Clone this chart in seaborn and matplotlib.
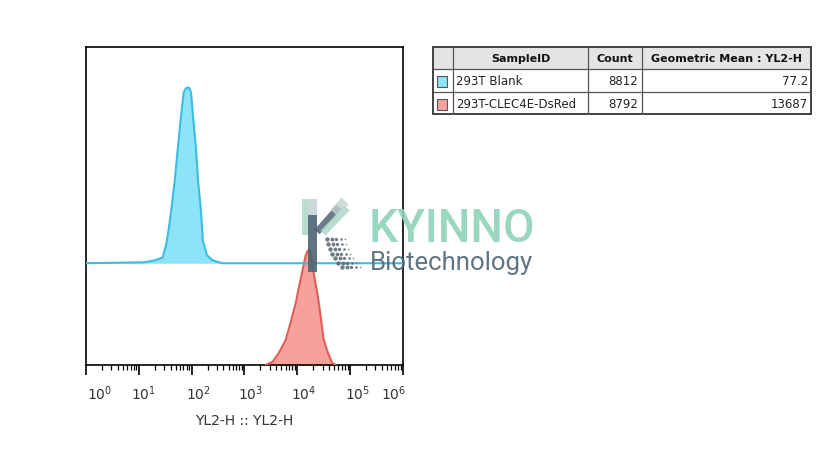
import numpy as np
import pandas as pd
import matplotlib
matplotlib.use("Agg")
import matplotlib.pyplot as plt
import matplotlib.transforms as mtransforms
from matplotlib.patches import Rectangle
import seaborn as sns

# histogram outlines: log10(YL2-H) and count height
blank_log = [0.0, 1.10, 1.30, 1.45, 1.52, 1.57, 1.62, 1.68, 1.74, 1.81, 1.85, 1.89, 1.93,
             1.96, 1.99, 2.02, 2.08, 2.12, 2.18, 2.21, 2.29, 2.40, 2.58, 6.0]
blank_cnt = [0.0, 0.3, 0.9, 1.8, 6.0, 11.3, 17.6, 26.1, 36.5, 48.1, 53.8, 55.0, 55.3,
             55.0, 53.5, 47.2, 36.5, 26.1, 15.7, 7.2, 2.5, 0.9, 0.0, 0.0]
red_log = [3.40, 3.53, 3.65, 3.78, 3.87, 3.97, 4.03, 4.10, 4.16, 4.20, 4.23, 4.26,
           4.31, 4.39, 4.45, 4.50, 4.58, 4.66, 4.73]
red_cnt = [0.0, 1.0, 3.8, 7.9, 13.2, 19.5, 24.5, 29.9, 34.6, 36.0, 36.2, 34.6,
           28.9, 21.4, 14.2, 7.9, 3.8, 0.6, 0.0]
blank_offset = 32

sample_ids = ["293T Blank", "293T-CLEC4E-DsRed"]
counts = ["8812", "8792"]
geo_means = ["77.2", "13687"]
fills = ["#8de3f7", "#f6a19b"]
edges = ["#3bbde2", "#df5f58"]

tick_vals = [1, 10, 100, 1e3, 1e4, 1e5, 1e6]
tick_text = ["$10^{0}$", "$10^{1}$", "$10^{2}$", "$10^{3}$", "$10^{4}$", "$10^{5}$", "$10^{6}$"]

sns.set_theme(style="white")
plt.rcParams["font.family"] = ["DejaVu Sans"]

df = pd.concat([
    pd.DataFrame({"x": 10 ** np.array(red_log), "y": red_cnt, "s": sample_ids[1]}),
    pd.DataFrame({"x": 10 ** np.array(blank_log), "y": np.array(blank_cnt) + blank_offset,
                  "s": sample_ids[0]}),
])

fig = plt.figure(figsize=(8.4, 4.72), dpi=100)
ax = fig.add_axes([86 / 840, 1 - 365 / 472, 317 / 840, 318 / 472])

red = df[df.s == sample_ids[1]]
ax.fill_between(red.x, 0, red.y, color=fills[1], lw=0, zorder=1)
blue = df[df.s == sample_ids[0]]
ax.fill_between(blue.x, blank_offset, blue.y, color=fills[0], lw=0, zorder=3)
sns.lineplot(data=df, x="x", y="y", hue="s", palette={sample_ids[0]: edges[0], sample_ids[1]: edges[1]},
             hue_order=[sample_ids[1], sample_ids[0]], sort=False, estimator=None,
             lw=1.5, legend=False, ax=ax, zorder=4)

ax.set_xscale("log")
ax.set_xlim(1, 1e6)
ax.set_ylim(0, 100)
ax.set_yticks([])
ax.set_ylabel("")
ax.set_xticks(tick_vals)
ax.set_xticklabels(tick_text, fontsize=10, color="#333333")
ax.xaxis.set_minor_locator(matplotlib.ticker.LogLocator(base=10, subs=np.arange(2, 10), numticks=20))
ax.xaxis.set_minor_formatter(matplotlib.ticker.NullFormatter())
ax.tick_params(axis="x", which="major", direction="out", length=7, width=1.2, color="black",
               bottom=True, pad=7)
ax.tick_params(axis="x", which="minor", direction="out", length=3.5, width=0.9, color="black",
               bottom=True)
shifts = [14, 5, 7, 6, 6, 7, -9]
for lab, dx in zip(ax.get_xticklabels(), shifts):
    lab.set_transform(lab.get_transform() + mtransforms.ScaledTranslation(dx / 100, 0, fig.dpi_scale_trans))
ax.set_xlabel("YL2-H :: YL2-H", fontsize=10, color="#333333", labelpad=8)
for sp in ax.spines.values():
    sp.set_color("black")
    sp.set_linewidth(1.2)

# overlay in pixel units for table and watermark
ov = fig.add_axes([0, 0, 1, 1], zorder=5)
ov.set_xlim(0, 840)
ov.set_ylim(472, 0)
ov.axis("off")
ov.patch.set_alpha(0)

cx = [433, 453, 588, 642, 811]
ry = [47, 69, 92, 114]
ov.add_patch(Rectangle((cx[0], ry[0]), cx[-1] - cx[0], ry[1] - ry[0], color="#e4e4e4", lw=0))
for x in cx[1:-1]:
    ov.plot([x, x], [ry[0], ry[-1]], color="#555555", lw=0.9)
for y in ry[1:-1]:
    ov.plot([cx[0], cx[-1]], [y, y], color="#555555", lw=0.9)
ov.add_patch(Rectangle((cx[0], ry[0]), cx[-1] - cx[0], ry[-1] - ry[0], fill=False, ec="#333333", lw=1.3))
heads = ["SampleID", "Count", "Geometric Mean : YL2-H"]
for i, h in enumerate(heads):
    ov.text((cx[i + 1] + cx[i + 2]) / 2, (ry[0] + ry[1]) / 2 + 1, h, ha="center", va="center",
            fontsize=8, fontweight="bold", color="#111111")
for r in range(2):
    yc = (ry[r + 1] + ry[r + 2]) / 2 + 1
    ov.add_patch(Rectangle((437, yc - 5.5), 10, 11, fc=fills[r], ec="#555555", lw=0.8))
    ov.text(cx[1] + 3, yc, sample_ids[r], ha="left", va="center", fontsize=8.5, color="#222222")
    ov.text(cx[3] - 4, yc, counts[r], ha="right", va="center", fontsize=8.5, color="#222222")
    ov.text(cx[4] - 3, yc, geo_means[r], ha="right", va="center", fontsize=8.5, color="#222222")

# watermark
ov.text(369, 242, "KYINNO", fontsize=33, family="Roboto", fontweight="medium", color="#8fd3b8",
        alpha=0.9, ha="left", va="baseline")
ov.text(370, 270, "Biotechnology", fontsize=18.5, family="Roboto", color="#4f6676", alpha=0.9,
        ha="left", va="baseline")
ov.add_patch(Rectangle((302, 199), 6, 36, color="#a9d8c8", alpha=0.85, lw=0))
ov.add_patch(Rectangle((308, 199), 9, 16, color="#c3d2d0", alpha=0.85, lw=0))
ov.add_patch(Rectangle((308, 215), 9, 57, color="#4d6472", alpha=0.9, lw=0))
ov.plot([317, 339], [232, 207], color="#4d6472", lw=5, alpha=0.85, solid_capstyle="butt")
ov.plot([323, 347], [233, 208], color="#a9d8c8", lw=5, alpha=0.85, solid_capstyle="butt")
ov.plot([334, 345], [213, 201], color="#c3d2d0", lw=7, alpha=0.8, solid_capstyle="butt")
row_x = [327, 328, 330, 332, 335, 338, 342]
row_y = [239, 244, 249, 254, 258, 263, 267]
for x0, y0 in zip(row_x, row_y):
    for j in range(5):
        ov.scatter(x0 + 4.5 * j, y0, s=max(10 - 2.2 * j, 1.2), color="#55656f", alpha=0.85, lw=0)

fig.savefig("out.png", dpi=100)
